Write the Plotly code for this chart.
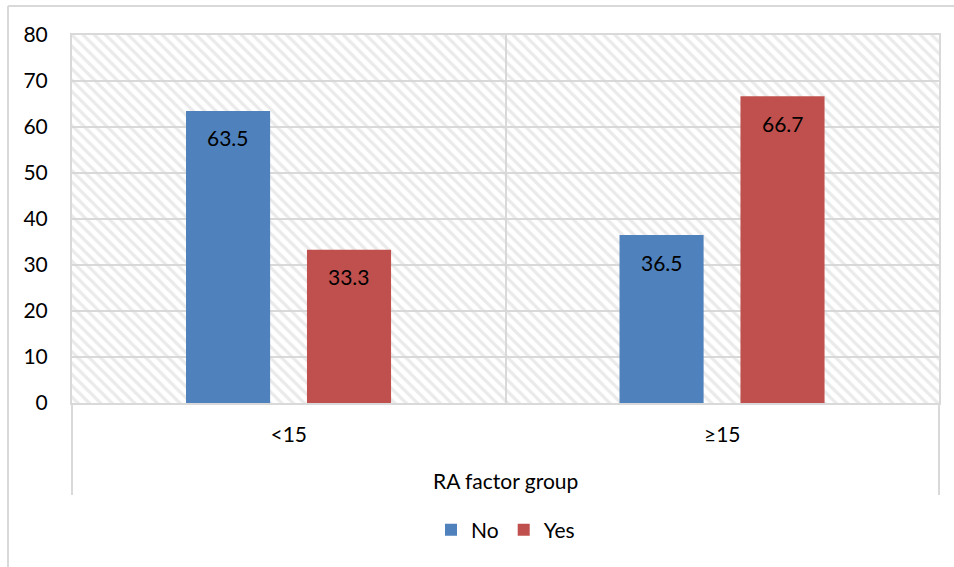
import plotly.graph_objects as go

# Data
groups = ["<15", "\u226515"]
series_names = ["No", "Yes"]
no_values = [63.5, 36.5]
yes_values = [33.3, 66.7]
y_ticks = [0, 10, 20, 30, 40, 50, 60, 70, 80]
x_title = "RA factor group"

# Styling
W, H = 954, 567
M_L, M_R, M_T, M_B = 72, 15, 35, 164
PLOT_W = W - M_L - M_R
PLOT_H = H - M_T - M_B
PX_PER_CAT = PLOT_W / len(groups)
FONT = "Lato"
FS = 21
GRID = "#d9d9d9"
COLORS = {"No": "#4f81bd", "Yes": "#c0504d"}
BAR_W = 0.194
OFFSETS = {"No": -0.237, "Yes": 0.042}
Y_MAX = y_ticks[-1]

fig = go.Figure()

# Hatched plot-area background, one full-width band per category
fig.add_trace(go.Bar(
    x=groups,
    y=[Y_MAX] * len(groups),
    width=1.0,
    offset=-0.5,
    marker=dict(
        color="rgba(0,0,0,0)",
        line=dict(width=0),
        pattern=dict(shape="\\", fgcolor="#d6d6d6", bgcolor="rgba(0,0,0,0)",
                     size=8, solidity=0.4, fillmode="overlay"),
    ),
    showlegend=False,
    hoverinfo="skip",
))

series = {"No": no_values, "Yes": yes_values}
for name in series_names:
    fig.add_trace(go.Bar(
        x=groups,
        y=series[name],
        name=name,
        width=BAR_W,
        offset=OFFSETS[name],
        marker=dict(color=COLORS[name], line=dict(width=0)),
    ))
    # value labels just below the top of each bar
    shift = (OFFSETS[name] + BAR_W / 2) * PX_PER_CAT
    for g, v in zip(groups, series[name]):
        fig.add_annotation(
            x=g, y=v, xref="x", yref="y", text=f"{v:.1f}",
            showarrow=False, xshift=shift, yshift=-27, yanchor="middle",
            font=dict(family=FONT, size=FS, color="#000000"),
        )

# Axis title
fig.add_annotation(
    x=0.5, y=-77 / PLOT_H, xref="paper", yref="paper", text=x_title,
    showarrow=False, xanchor="center", yanchor="middle",
    font=dict(family=FONT, size=FS, color="#000000"),
)

# Outer chart frame (left and top edges)
frame_x = (8 - M_L) / PLOT_W
frame_y = (PLOT_H + M_T - 6) / PLOT_H
fig.add_shape(type="line", xref="paper", yref="paper",
              x0=frame_x, x1=frame_x, y0=-2, y1=frame_y,
              line=dict(color=GRID, width=2))
fig.add_shape(type="line", xref="paper", yref="paper",
              x0=frame_x, x1=2, y0=frame_y, y1=frame_y,
              line=dict(color=GRID, width=2))

# Category axis side lines extending below the plot area
for xp in (0, 1):
    fig.add_shape(type="line", xref="paper", yref="paper",
                  x0=xp, x1=xp, y0=-92 / PLOT_H, y1=0,
                  line=dict(color=GRID, width=2))

fig.update_layout(
    width=W, height=H,
    margin=dict(l=M_L, r=M_R, t=M_T, b=M_B),
    paper_bgcolor="white",
    plot_bgcolor="white",
    barmode="overlay",
    font=dict(family=FONT, size=FS, color="#000000"),
    showlegend=True,
    legend=dict(
        orientation="h", x=0.5, xanchor="center",
        y=-127 / PLOT_H, yanchor="middle",
        font=dict(family=FONT, size=FS, color="#000000"),
        itemwidth=30, traceorder="normal",
    ),
    xaxis=dict(
        type="category", categoryorder="array", categoryarray=groups,
        range=[-0.5, len(groups) - 0.5],
        showgrid=True, gridcolor=GRID, gridwidth=2,
        tickson="boundaries", ticks="", ticklen=0,
        showline=True, linecolor=GRID, linewidth=2, mirror=True,
        ticklabelstandoff=12,
        tickfont=dict(family=FONT, size=FS, color="#000000"),
        fixedrange=True,
    ),
    yaxis=dict(
        range=[0, Y_MAX], tickvals=y_ticks,
        showgrid=True, gridcolor=GRID, gridwidth=2,
        zeroline=False, ticks="",
        showline=True, linecolor=GRID, linewidth=2, mirror=True,
        ticklabelstandoff=18,
        tickfont=dict(family=FONT, size=FS, color="#000000"),
        fixedrange=True,
    ),
)

fig.write_html("out.html")
